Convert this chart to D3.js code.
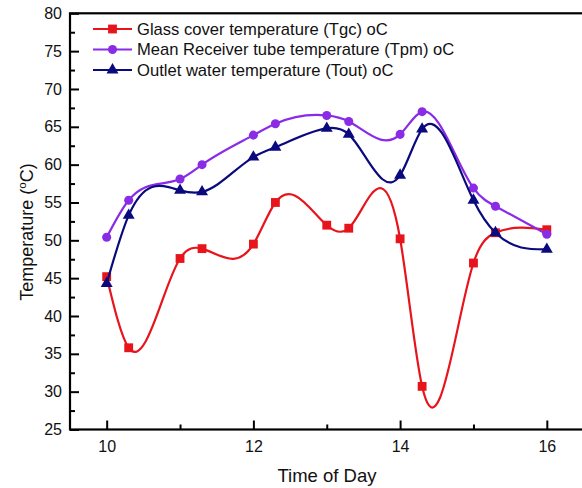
<!DOCTYPE html>
<html>
<head>
<meta charset="utf-8">
<script src="https://cdn.jsdelivr.net/npm/d3@7"></script>
<style>
  html, body { margin: 0; padding: 0; background: #fff; }
  svg { display: block; font-family: "Liberation Sans", Arial, sans-serif; }
</style>
</head>
<body>
<div id="chart"></div>
<script>
// time of day (hours, as plotted)
const times = [10, 10.3, 11, 11.3, 12, 12.3, 13, 13.3, 14, 14.3, 15, 15.3, 16];
// glass cover temperature (Tgc)
const tgc = [45.2, 35.8, 47.6, 48.9, 49.5, 55.0, 52.0, 51.6, 50.2, 30.7, 47.0, 51.0, 51.4];
// mean receiver tube temperature (Tpm)
const tpm = [50.4, 55.3, 58.1, 60.0, 63.9, 65.4, 66.5, 65.7, 64.0, 67.0, 56.9, 54.5, 50.8];
// outlet water temperature (Tout)
const tout = [44.3, 53.3, 56.6, 56.4, 61.0, 62.3, 64.8, 64.0, 58.6, 64.7, 55.3, 51.0, 48.8];

const seriesNames = [
  "Glass cover temperature (Tgc) oC",
  "Mean Receiver tube temperature (Tpm) oC",
  "Outlet water temperature (Tout) oC",
];
const xTicks = [10, 12, 14, 16];
const xMinor = [11, 13, 15];

const width = 582, height = 488;
const margin = { top: 13.3, right: -1.5, bottom: 58.5, left: 70 };

const series = [
  { name: seriesNames[0], values: tgc, color: "#e8141b", symbol: d3.symbolSquare, size: 78 },
  { name: seriesNames[1], values: tpm, color: "#8a2be6", symbol: d3.symbolCircle, size: 64 },
  { name: seriesNames[2], values: tout, color: "#0a0a7e", symbol: d3.symbolTriangle, size: 62 },
];

// natural cubic spline of y as a function of x (Origin style), drawn as beziers
function curveSplineX(context) {
  let xs, ys;
  return {
    areaStart() {}, areaEnd() {},
    lineStart() { xs = []; ys = []; },
    point(x, y) { xs.push(+x); ys.push(+y); },
    lineEnd() {
      const n = xs.length;
      if (!n) return;
      context.moveTo(xs[0], ys[0]);
      if (n < 3) { if (n === 2) context.lineTo(xs[1], ys[1]); return; }
      const h = d3.range(n - 1).map((i) => xs[i + 1] - xs[i]);
      const M = new Array(n).fill(0);
      // tridiagonal solve (Thomas) for the inner second derivatives
      const a = [], b = [], c = [], r = [];
      for (let i = 1; i < n - 1; i++) {
        a.push(h[i - 1]);
        b.push(2 * (h[i - 1] + h[i]));
        c.push(h[i]);
        r.push(6 * ((ys[i + 1] - ys[i]) / h[i] - (ys[i] - ys[i - 1]) / h[i - 1]));
      }
      const m = b.length;
      for (let i = 1; i < m; i++) {
        const w = a[i] / b[i - 1];
        b[i] -= w * c[i - 1];
        r[i] -= w * r[i - 1];
      }
      M[m] = r[m - 1] / b[m - 1];
      for (let i = m - 2; i >= 0; i--) M[i + 1] = (r[i] - c[i] * M[i + 2]) / b[i];
      for (let i = 0; i < n - 1; i++) {
        const hi = h[i], s = (ys[i + 1] - ys[i]) / hi;
        const d0 = s - hi * (2 * M[i] + M[i + 1]) / 6;
        const d1 = s + hi * (M[i] + 2 * M[i + 1]) / 6;
        context.bezierCurveTo(
          xs[i] + hi / 3, ys[i] + d0 * hi / 3,
          xs[i + 1] - hi / 3, ys[i + 1] - d1 * hi / 3,
          xs[i + 1], ys[i + 1]
        );
      }
    },
  };
}

const svg = d3.select("#chart").append("svg")
  .attr("width", width).attr("height", height);

const x = d3.scaleLinear().domain([9.5, 16.5]).range([margin.left, width - margin.right]);
const y = d3.scaleLinear().domain([25, 80]).range([height - margin.bottom, margin.top]);

const line = d3.line().x((d) => x(d[0])).y((d) => y(d[1])).curve(curveSplineX);

// series
series.forEach((s) => {
  const pts = times.map((t, i) => [t, s.values[i]]);
  const g = svg.append("g");
  g.append("path")
    .attr("d", line(pts))
    .attr("fill", "none")
    .attr("stroke", s.color)
    .attr("stroke-width", 2.2);
  g.selectAll("path.marker")
    .data(pts)
    .join("path")
    .attr("class", "marker")
    .attr("transform", (d) => `translate(${x(d[0])},${y(d[1])})`)
    .attr("d", d3.symbol(s.symbol, s.size))
    .attr("fill", s.color);
});

// axes
const axisFont = (g) => g.selectAll("text").attr("font-size", 16).attr("fill", "#111")
  .attr("font-family", "'Liberation Sans', Arial, sans-serif");

svg.append("g")
  .attr("transform", `translate(${margin.left},0)`)
  .call(d3.axisLeft(y).tickValues(d3.range(27.5, 80, 5)).tickSize(-5).tickFormat(""))
  .call((g) => g.select(".domain").remove())
  .call((g) => g.selectAll("line").attr("stroke", "#000").attr("stroke-width", 2));

svg.append("g")
  .attr("transform", `translate(${margin.left},0)`)
  .call(d3.axisLeft(y).tickValues(d3.range(25, 81, 5)).tickSize(-9).tickPadding(8))
  .call((g) => g.select(".domain").remove())
  .call((g) => g.selectAll("line").attr("stroke", "#000").attr("stroke-width", 2))
  .call(axisFont);

svg.append("g")
  .attr("transform", `translate(0,${height - margin.bottom})`)
  .call(d3.axisBottom(x).tickValues(xMinor).tickSize(-5).tickFormat(""))
  .call((g) => g.select(".domain").remove())
  .call((g) => g.selectAll("line").attr("stroke", "#000").attr("stroke-width", 2));

svg.append("g")
  .attr("transform", `translate(0,${height - margin.bottom})`)
  .call(d3.axisBottom(x).tickValues(xTicks).tickSize(-9).tickPadding(11).tickFormat(d3.format("d")))
  .call((g) => g.select(".domain").remove())
  .call((g) => g.selectAll("line").attr("stroke", "#000").attr("stroke-width", 2))
  .call(axisFont);

// frame
svg.append("rect")
  .attr("x", x.range()[0]).attr("y", y.range()[1])
  .attr("width", x.range()[1] - x.range()[0])
  .attr("height", y.range()[0] - y.range()[1])
  .attr("fill", "none").attr("stroke", "#000").attr("stroke-width", 2.2);

// axis titles
svg.append("text")
  .attr("x", 327)
  .attr("y", 482)
  .attr("text-anchor", "middle")
  .attr("font-size", 18.5)
  .attr("fill", "#111")
  .text("Time of Day");

const yt = svg.append("text")
  .attr("transform", "translate(33,232) rotate(-90)")
  .attr("text-anchor", "middle")
  .attr("font-size", 18)
  .attr("fill", "#111");
yt.append("tspan").text("Temperature (");
yt.append("tspan").attr("font-size", 11.5).attr("dy", -7).text("o");
yt.append("tspan").attr("dy", 7).text("C)");

// legend
const legend = svg.append("g").attr("transform", "translate(93,29)");
series.forEach((s, i) => {
  const row = legend.append("g").attr("transform", `translate(0,${i * 20.5})`);
  row.append("line")
    .attr("x1", 0).attr("x2", 39)
    .attr("stroke", s.color).attr("stroke-width", 2.2);
  row.append("path")
    .attr("transform", "translate(19.5,0)")
    .attr("d", d3.symbol(s.symbol, s.size))
    .attr("fill", s.color);
  row.append("text")
    .attr("x", 44).attr("dy", "0.35em")
    .attr("font-size", 16.6)
    .attr("fill", "#111")
    .text(s.name);
});
</script>
</body>
</html>
